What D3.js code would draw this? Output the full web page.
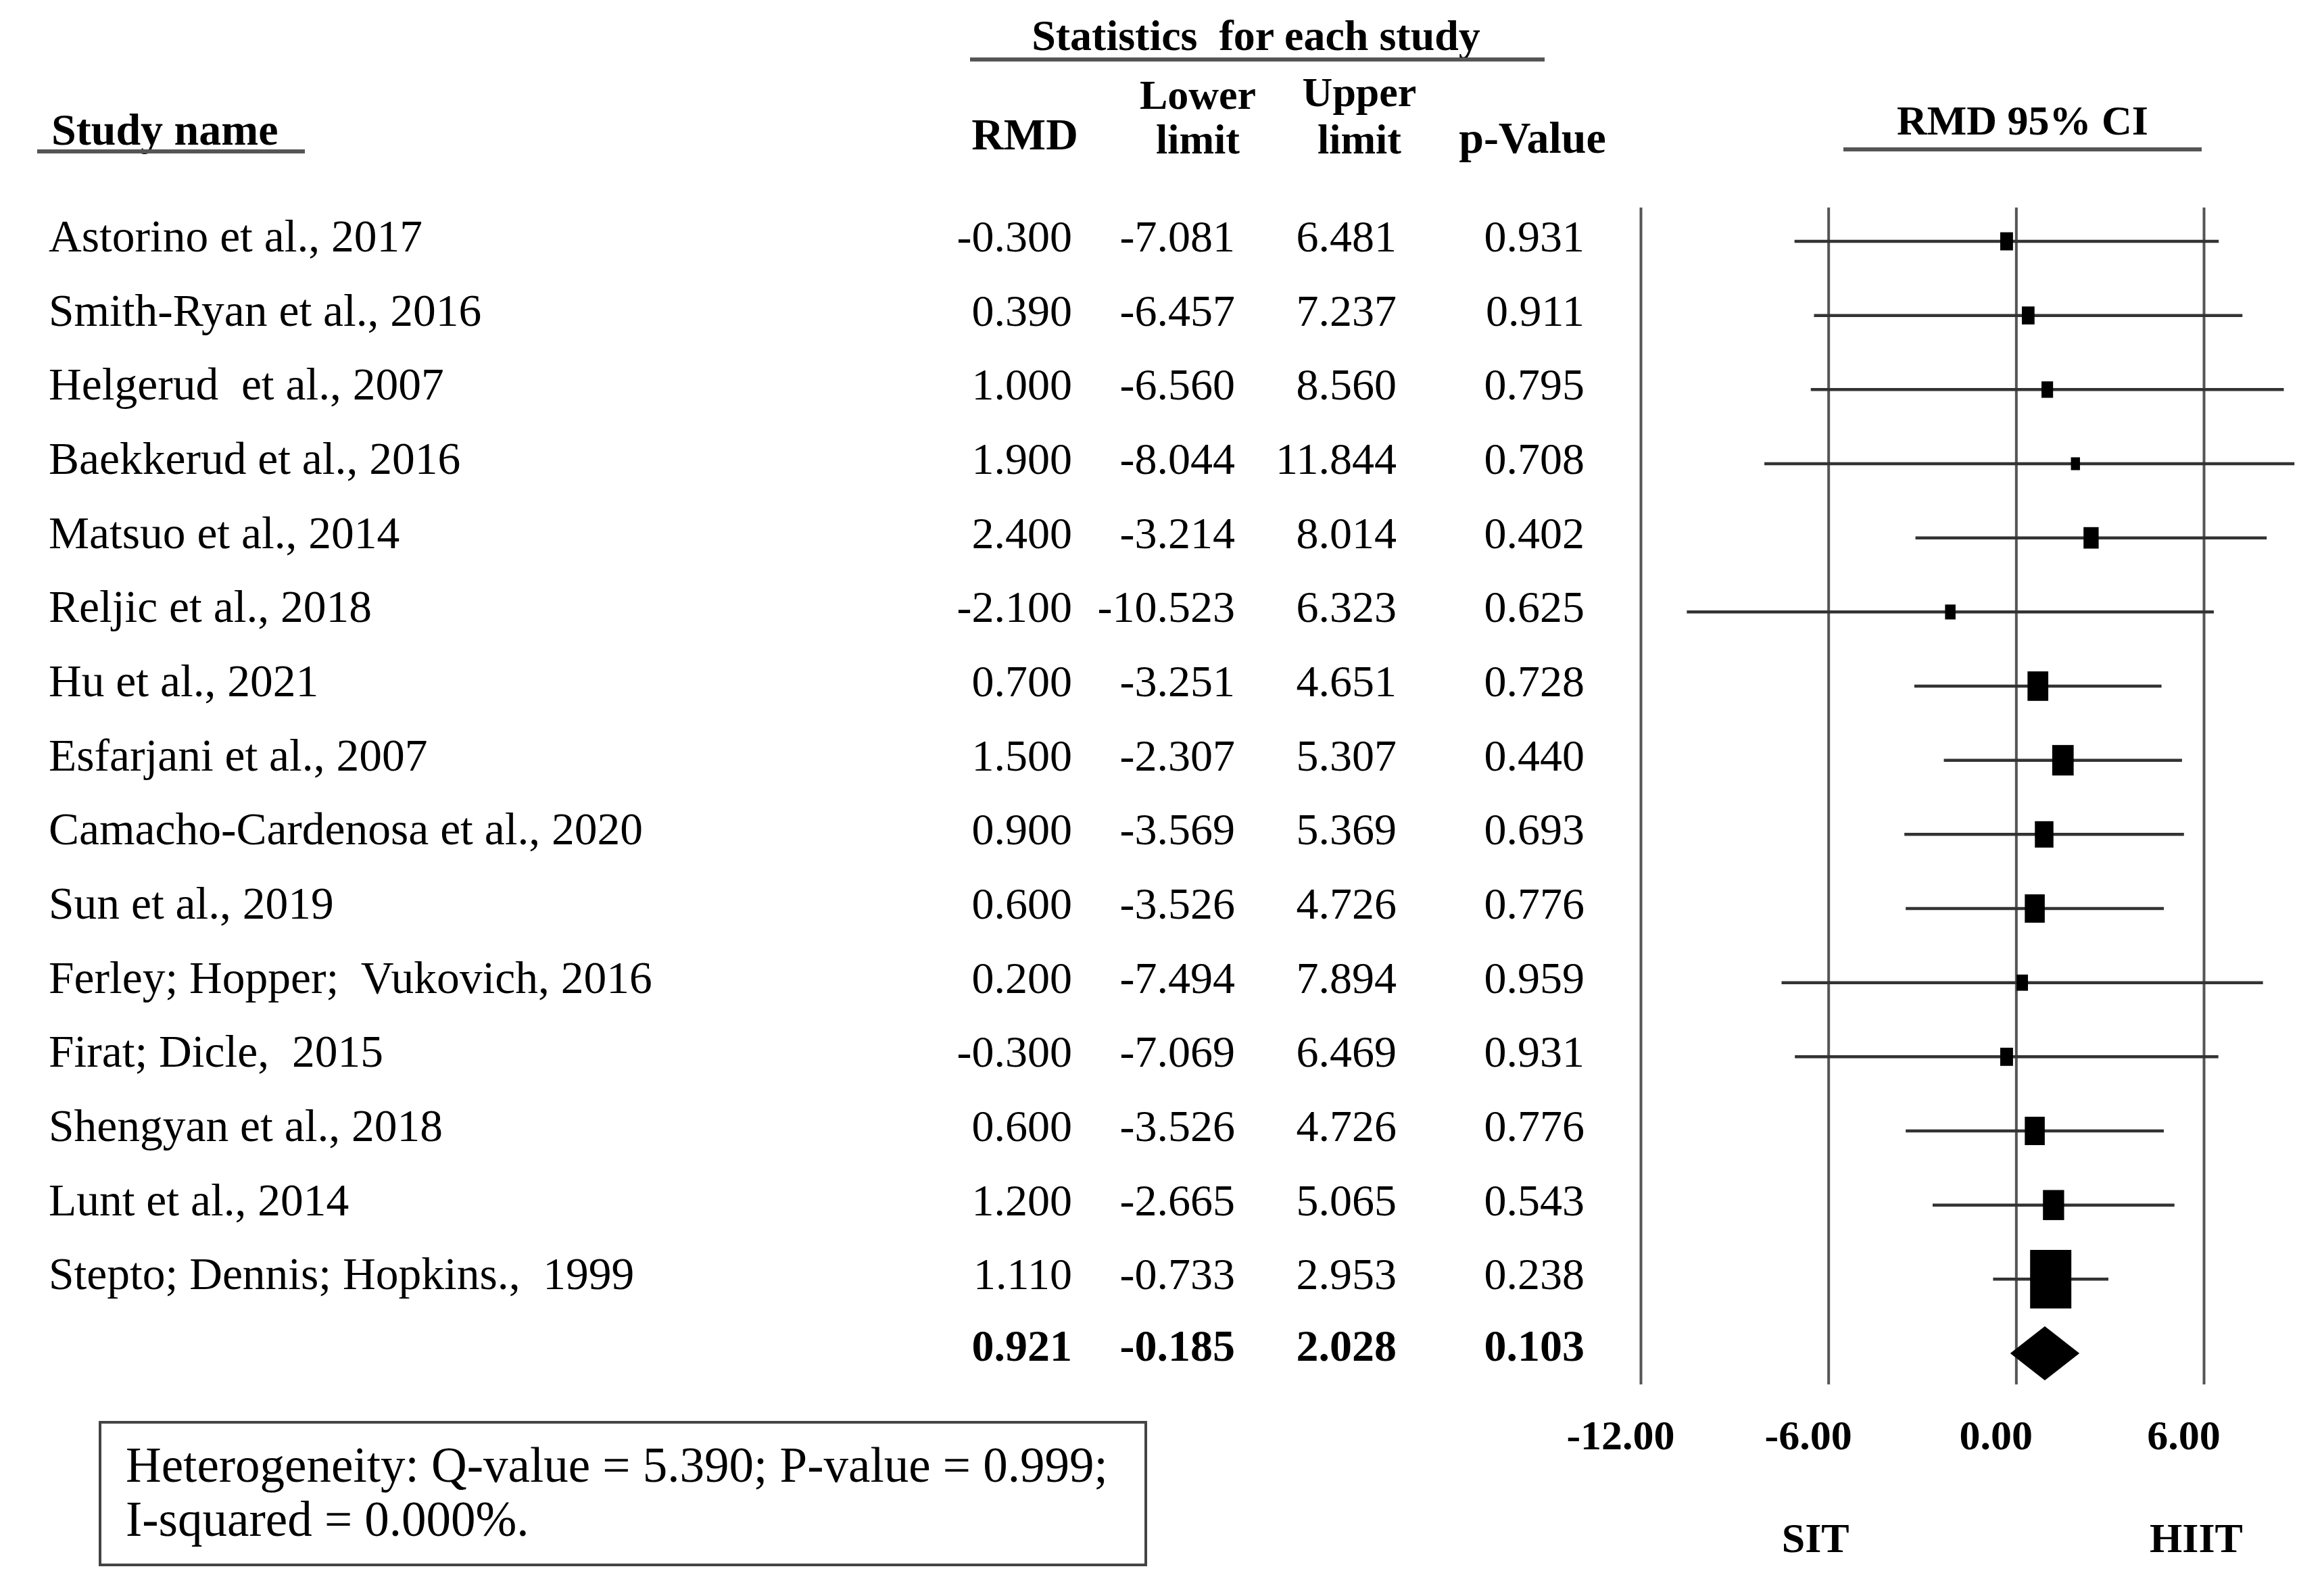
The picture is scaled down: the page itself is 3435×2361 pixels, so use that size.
<!DOCTYPE html>
<html>
<head>
<meta charset="utf-8">
<script src="https://cdn.jsdelivr.net/npm/d3@7/dist/d3.min.js"></script>
<style>
  html, body { margin: 0; padding: 0; background: #fff; }
  svg { display: block; }
  text { font-family: "Liberation Serif", "Times New Roman", serif; fill: #000; }
</style>
</head>
<body>
<script>
// ---------------- DATA ----------------
const studies = [
  "Astorino et al., 2017",
  "Smith-Ryan et al., 2016",
  "Helgerud  et al., 2007",
  "Baekkerud et al., 2016",
  "Matsuo et al., 2014",
  "Reljic et al., 2018",
  "Hu et al., 2021",
  "Esfarjani et al., 2007",
  "Camacho-Cardenosa et al., 2020",
  "Sun et al., 2019",
  "Ferley; Hopper;  Vukovich, 2016",
  "Firat; Dicle,  2015",
  "Shengyan et al., 2018",
  "Lunt et al., 2014",
  "Stepto; Dennis; Hopkins.,  1999"
];
const rmd   = [-0.300, 0.390, 1.000, 1.900, 2.400, -2.100, 0.700, 1.500, 0.900, 0.600, 0.200, -0.300, 0.600, 1.200, 1.110];
const lower = [-7.081, -6.457, -6.560, -8.044, -3.214, -10.523, -3.251, -2.307, -3.569, -3.526, -7.494, -7.069, -3.526, -2.665, -0.733];
const upper = [6.481, 7.237, 8.560, 11.844, 8.014, 6.323, 4.651, 5.307, 5.369, 4.726, 7.894, 6.469, 4.726, 5.065, 2.953];
const pval  = [0.931, 0.911, 0.795, 0.708, 0.402, 0.625, 0.728, 0.440, 0.693, 0.776, 0.959, 0.931, 0.776, 0.543, 0.238];

const summaryRMD = 0.921, summaryLower = -0.185, summaryUpper = 2.028, summaryP = 0.103;
const hetQ = 5.390, hetP = 0.999, hetI2 = 0.000;

const xTicks = [-12, -6, 0, 6];
const columnHeaders = [["RMD"], ["Lower", "limit"], ["Upper", "limit"], ["p-Value"]];
const groupLabels = ["SIT", "HIIT"];

// ---------------- LAYOUT ----------------
const W = 3435, H = 2361;
const FS = 66, NAME_FS = 67.5;
const svg = d3.select("body").append("svg").attr("width", W).attr("height", H);
svg.append("rect").attr("width", W).attr("height", H).attr("fill", "#fff");

const x = d3.scaleLinear().domain([-12, 6]).range([2427, 3260]);
const rowKeys = d3.range(studies.length + 1);
const y = d3.scalePoint().domain(rowKeys).range([357, 2002]);
const gridTop = 307, gridBottom = 2048;
const fmt = v => v.toFixed(3);
const fmtTick = v => v.toFixed(2);

// clip for the plotting area (right edge of plot panel)
svg.append("defs").append("clipPath").attr("id", "plotclip")
  .append("rect").attr("x", x(-12) - 60).attr("y", gridTop).attr("width", x(8.9) - x(-12) + 60).attr("height", gridBottom - gridTop);

// ---------- Headers ----------
const lineColor = "#555";
svg.append("text").attr("x", 1858).attr("y", 74).attr("text-anchor", "middle")
  .attr("font-weight", "bold").attr("font-size", 64).attr("xml:space", "preserve").text("Statistics  for each study");
svg.append("line").attr("x1", 1435).attr("x2", 2285).attr("y1", 88).attr("y2", 88)
  .attr("stroke", lineColor).attr("stroke-width", 6);

svg.append("text").attr("x", 76).attr("y", 214).attr("font-weight", "bold").attr("font-size", FS).text("Study name");
svg.append("line").attr("x1", 55).attr("x2", 451).attr("y1", 224).attr("y2", 224)
  .attr("stroke", lineColor).attr("stroke-width", 6);

const colCenters = [1516, 1772, 2011, 2267];
const colRights = [1586, 1827, 2066, 2344];
const headerBaselines = [[221], [161, 227], [157, 227], [226]];
columnHeaders.forEach((lines, i) => {
  lines.forEach((t, j) => {
    svg.append("text").attr("x", colCenters[i]).attr("y", headerBaselines[i][j])
      .attr("text-anchor", "middle").attr("font-weight", "bold")
      .attr("font-size", lines.length > 1 ? 62 : FS).text(t);
  });
});

svg.append("text").attr("x", 2992).attr("y", 199).attr("text-anchor", "middle")
  .attr("font-weight", "bold").attr("font-size", 62).text("RMD 95% CI");
svg.append("line").attr("x1", 2727).attr("x2", 3257).attr("y1", 221).attr("y2", 221)
  .attr("stroke", lineColor).attr("stroke-width", 6);

// ---------- Rows ----------
const rows = studies.map((s, i) => ({ s, i, rmd: rmd[i], lo: lower[i], hi: upper[i], p: pval[i] }));
const tg = svg.append("g");
rows.forEach(r => {
  const by = y(r.i) + 15;
  tg.append("text").attr("x", 72).attr("y", by).attr("font-size", NAME_FS).attr("xml:space", "preserve").text(r.s);
  [r.rmd, r.lo, r.hi, r.p].forEach((v, k) => {
    tg.append("text").attr("x", colRights[k]).attr("y", by).attr("text-anchor", "end")
      .attr("font-size", FS).text(fmt(v));
  });
});
[summaryRMD, summaryLower, summaryUpper, summaryP].forEach((v, k) => {
  tg.append("text").attr("x", colRights[k]).attr("y", y(studies.length) + 11).attr("text-anchor", "end")
    .attr("font-size", FS).attr("font-weight", "bold").text(fmt(v));
});

// ---------- Axis with gridlines ----------
const axis = d3.axisBottom(x).tickValues(xTicks).tickFormat(fmtTick)
  .tickSizeInner(-(gridBottom - gridTop)).tickSizeOuter(0).tickPadding(52);
const ag = svg.append("g").attr("transform", `translate(0,${gridBottom})`).call(axis);
ag.select(".domain").remove();
ag.selectAll(".tick line").attr("stroke", lineColor).attr("stroke-width", 4);
ag.selectAll(".tick text").attr("font-family", "Liberation Serif, serif").attr("font-size", 62)
  .attr("font-weight", "bold").attr("fill", "#000").attr("dx", -30);

// ---------- CI lines & boxes ----------
const pg = svg.append("g").attr("clip-path", "url(#plotclip)");
const weights = rows.map(r => { const se = (r.hi - r.lo) / 3.92; return 1 / (se * se); });
const boxW = i => 57.7 * Math.pow(weights[i], 0.45);
const boxH = i => 1.42 * boxW(i);
pg.selectAll("line.ci").data(rows).enter().append("line")
  .attr("x1", d => x(d.lo)).attr("x2", d => x(d.hi))
  .attr("y1", d => y(d.i)).attr("y2", d => y(d.i))
  .attr("stroke", "#333").attr("stroke-width", 4.5);
pg.selectAll("rect.box").data(rows).enter().append("rect")
  .attr("width", (d, i) => boxW(i))
  .attr("height", (d, i) => boxH(i))
  .attr("x", (d, i) => x(d.rmd) - boxW(i) / 2)
  .attr("y", (d, i) => y(d.i) - boxH(i) / 2)
  .attr("fill", "#000");

const sy = y(studies.length), dh = 40;
pg.append("path")
  .attr("d", `M${x(summaryLower)},${sy} L${x(summaryRMD)},${sy - dh} L${x(summaryUpper)},${sy} L${x(summaryRMD)},${sy + dh} Z`)
  .attr("fill", "#000");

svg.append("text").attr("x", x(-6) - 19).attr("y", 2296).attr("text-anchor", "middle")
  .attr("font-weight", "bold").attr("font-size", 62).text(groupLabels[0]);
svg.append("text").attr("x", x(6) - 11).attr("y", 2296).attr("text-anchor", "middle")
  .attr("font-weight", "bold").attr("font-size", 62).text(groupLabels[1]);

// ---------- Heterogeneity box ----------
svg.append("rect").attr("x", 148).attr("y", 2104).attr("width", 1547).attr("height", 211)
  .attr("fill", "none").attr("stroke", "#444").attr("stroke-width", 4);
svg.append("text").attr("x", 186).attr("y", 2192).attr("font-size", 73)
  .text(`Heterogeneity: Q-value = ${hetQ.toFixed(3)}; P-value = ${hetP.toFixed(3)};`);
svg.append("text").attr("x", 186).attr("y", 2272).attr("font-size", 73)
  .text(`I-squared = ${hetI2.toFixed(3)}%.`);
</script>
</body>
</html>
